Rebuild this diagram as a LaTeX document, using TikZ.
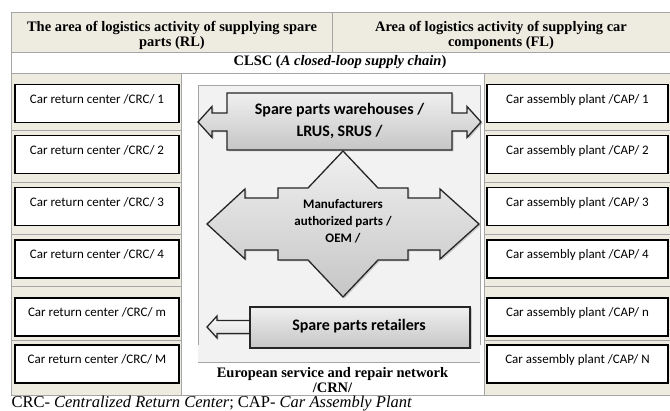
\documentclass[tikz,border=0pt]{standalone}
\usepackage{fontspec}
\setmainfont{Liberation Serif}
\newfontfamily\calibri{Carlito}
\usepackage{tikz}
\usetikzlibrary{shadows}
\definecolor{tan}{HTML}{EEECE1}
\definecolor{rulegray}{HTML}{A6A6A6}
\definecolor{panelgray}{HTML}{F2F2F2}
\tikzset{
  cellbox/.style={draw=black, line width=1.8pt, fill=white, inner sep=0pt,
    minimum height=38pt, text height=19pt, text depth=19pt,
    font=\calibri\fontsize{13}{15}\selectfont},
  crcbox/.style={cellbox, minimum width=164pt},
  capbox/.style={cellbox, minimum width=181pt},
  flow/.style={draw=black!85, line width=1.3pt, top color=gray!12, bottom color=gray!45,
    drop shadow={opacity=0.35, shadow xshift=1.5pt, shadow yshift=-1.5pt}},
  flowtext/.style={font=\calibri\bfseries\fontsize{16}{22}\selectfont, align=center},
  oemtext/.style={font=\calibri\bfseries\fontsize{13}{17}\selectfont, align=center},
  headtext/.style={font=\bfseries\fontsize{14.5}{15}\selectfont, align=center},
  tabline/.style={draw=rulegray, line width=0.8pt},
}
\begin{document}
\begin{tikzpicture}[x=1pt, y=-1pt]
    \useasboundingbox (0,0) rectangle (670,411);
    \fill[tan] (11,12) rectangle (670,52);
    \fill[tan] (11,73) rectangle (181,395);
    \fill[tan] (484,73) rectangle (670,395);
    \fill[panelgray] (198,85) rectangle (480,362);
    \draw[tabline] (198,345) -- (198,85) -- (480,85) -- (480,345);
    \draw[tabline] (198,362) -- (480,362);

    \draw[tabline] (11,12) -- (670,12);
    \draw[tabline] (11,52) -- (670,52);
    \draw[tabline] (11,73) -- (670,73);
    \draw[tabline] (11,395) -- (670,395);
    \draw[tabline] (11,12) -- (11,395);
    \draw[tabline] (332,12) -- (332,52);
    \draw[tabline] (181,73) -- (181,395);
    \draw[tabline] (484,73) -- (484,395);
    \foreach \y in {130,182,234,286,340} {
      \draw[tabline, line width=0.5pt] (11,\y) -- (181,\y);
      \draw[tabline, line width=0.5pt] (484,\y) -- (670,\y);
    }

    \node[headtext] (rl) at (172,35) {The area of logistics activity of supplying spare\\parts (RL)};
    \node[headtext] (fl) at (501,35) {Area of logistics activity of supplying car\\components (FL)};
    \node[headtext] (clsc) at (340,62) {CLSC (\textit{A closed-loop supply chain})};

    \foreach \i/\y in {1/103.5, 2/154.5, 3/206.5, 4/259, m/317, M/364}
      \node[crcbox] (crc\i) at (97,\y) {Car return center /CRC/ \i};
    \foreach \i/\y in {1/103.5, 2/154.5, 3/206.5, 4/259, n/317, N/364}
      \node[capbox] (cap\i) at (577.5,\y) {Car assembly plant /CAP/ \i};

    \path[flow] (198,122) -- (212,106.5) -- (212,113) -- (227,113) -- (227,93)
      -- (452,93) -- (452,113) -- (467,113) -- (467,106.5) -- (481,122)
      -- (467,137.5) -- (467,131) -- (452,131) -- (452,150) -- (227,150)
      -- (227,131) -- (212,131) -- (212,137.5) -- cycle;
    \node[flowtext] (store) at (339.5,121) {Spare parts warehouses /\\LRUS, SRUS /};

    \path[flow] (343,151) -- (378,188) -- (408,188) -- (408,198) -- (440,198)
      -- (440,189) -- (479,224) -- (440,259) -- (440,250) -- (408,250)
      -- (408,260) -- (378,260) -- (343,297) -- (308,260) -- (278,260)
      -- (278,250) -- (245,250) -- (245,259) -- (207,224) -- (245,189)
      -- (245,198) -- (278,198) -- (278,188) -- (308,188) -- cycle;
    \node[oemtext] (oem) at (343,221) {Manufacturers\\authorized parts /\\OEM /};

    \path[flow, top color=gray!5, bottom color=gray!25] (207,327) -- (217,316)
      -- (217,320.5) -- (252,320.5) -- (252,333.5) -- (217,333.5) -- (217,338) -- cycle;
    \path[flow] (250,307) rectangle (470,348);
    \node[flowtext] (retail) at (359,326) {Spare parts retailers};

    \node[headtext] (crn) at (332.5,380) {European service and repair network\\/CRN/};
    \node[anchor=west, font=\fontsize{16.5}{17}\selectfont] (legend) at (8,404)
      {CRC- \textit{Centralized Return Center}; CAP- \textit{Car Assembly Plant}};
\end{tikzpicture}
\end{document}
